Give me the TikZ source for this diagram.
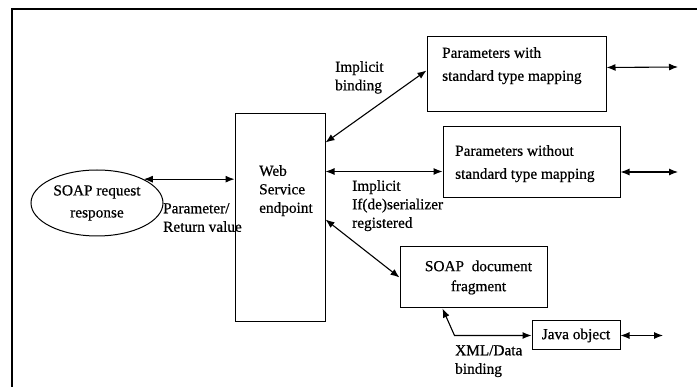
\documentclass[tikz,border=0pt]{standalone}
\usepackage{fontspec}
\setmainfont{Liberation Serif}[FakeBold=0.6]
\usetikzlibrary{arrows.meta,calc,shapes.geometric}
\tikzset{
  boxnode/.style={draw,line width=1pt,rectangle,inner sep=0pt},
  txt/.style={inner sep=0pt,anchor=north west,align=left,font=\fontsize{15.3}{18.5}\selectfont},
  boxtxt/.style={inner sep=0pt,anchor=north west,align=left,font=\fontsize{15.3}{23}\selectfont},
  dbl/.style={line width=1.1pt,{Latex[length=9pt,width=7pt]}-{Latex[length=9pt,width=7pt]}}
}
\begin{document}
\begin{tikzpicture}[x=1pt,y=-1pt]
\useasboundingbox (0,0) rectangle (697,387);
% frame
\draw[line width=1.2pt] (12,387) -- (12,9) -- (697,9);
% nodes
\node[draw,line width=1pt,ellipse,minimum width=132pt,minimum height=66pt,inner sep=0pt,align=center,font=\fontsize{15.3}{22}\selectfont] (ell) at (97,203) {SOAP request\\response};
\node[boxnode,minimum width=90pt,minimum height=208pt] (ws) at (280,218) {};
\node[txt] (wslbl) at (259,165) {Web\\Service\\endpoint};
\node[boxnode,minimum width=179pt,minimum height=75pt] (b1) at (516.5,74.5) {};
\node[boxtxt] (b1lbl) at (442,47) {Parameters with\\standard type mapping};
\node[boxnode,minimum width=177pt,minimum height=71pt] (b2) at (531.5,162.5) {};
\node[boxtxt] (b2lbl) at (455,145) {Parameters without\\standard type mapping};
\node[boxnode,minimum width=147pt,minimum height=61pt,align=center,font=\fontsize{15.3}{20}\selectfont] (sd) at (473.5,277.5) {\hspace*{10pt}SOAP\ \ document\\\hspace*{10pt}fragment};
\node[boxnode,minimum width=88pt,minimum height=29pt,font=\fontsize{15.3}{18}\selectfont] (jo) at (576,335.5) {Java object};
% labels
\node[txt] (l1) at (335,61) {Implicit\\binding};
\node[txt] (l2) at (352,180) {Implicit\\If(de)serializer\\registered};
\node[txt] (l3) at (163,203) {Parameter/\\Return value};
\node[txt] (l4) at (455,345) {XML/Data\\binding};
% connection points
\coordinate (wsa) at ($(ws.north east)+(0,29)$);
\coordinate (wsb) at ($(ws.north east)+(0,58)$);
\coordinate (wsc) at ($(ws.north east)+(0,106)$);
\coordinate (b1w) at ($(b1.west)+(0,-4)$);
\coordinate (b1e) at ($(b1.east)+(0,-7)$);
\coordinate (b2e) at ($(b2.east)+(0,9.5)$);
\coordinate (sdb) at ($(sd.south west)+(43,0)$);
\coordinate (bend) at ($(sd.south west)+(55,0)$);
% free ends
\coordinate (e1) at (678,67);
\coordinate (e2) at (678,172);
\coordinate (e3) at (663,335.5);
% connectors
\draw[dbl] (ell.27) -- (ell.27 -| ws.west);
\draw[dbl] (wsa) -- (b1w);
\draw[dbl] (wsb) -- (wsb -| b2.west);
\draw[dbl] (wsc) -- (sd.west);
\draw[dbl] (sdb) -- (bend |- jo.west) -- (jo.west);
\draw[dbl] (b1e) -- (e1);
\draw[dbl] (b2e) -- (e2);
\draw[dbl] (jo.east) -- (e3);
\end{tikzpicture}
\end{document}
